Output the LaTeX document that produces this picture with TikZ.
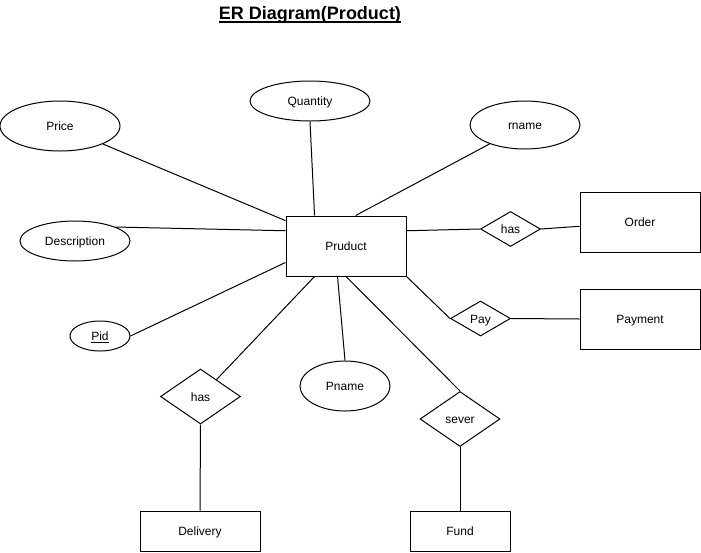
\documentclass[tikz,border=0pt]{standalone}
\usepackage{fontspec}
\setmainfont{Liberation Sans}
\usetikzlibrary{shapes.geometric,calc}
\newsavebox\ulbox
\newcommand\ultext[3]{\sbox\ulbox{#1}\rlap{\rule[#2]{\wd\ulbox}{#3}}\usebox\ulbox}
\begin{document}
\begin{tikzpicture}[x=1pt,y=-1pt,
  every node/.style={font=\fontsize{12}{14}\selectfont},
  lbl/.style={text height=9.5pt, text depth=0.5pt},
  attr/.style={draw, ellipse, inner sep=0pt, line width=1pt, lbl},
  entity/.style={draw, rectangle, inner sep=0pt, line width=1pt, lbl},
  rel/.style={draw, diamond, inner sep=0pt, line width=1pt, lbl},
  link/.style={draw, line width=1pt}]
\useasboundingbox (0,0) rectangle (701,552);

\node[font=\bfseries\fontsize{18}{20}\selectfont, anchor=base, inner sep=0pt] (title) at (310,19.5) {\ultext{ER Diagram(Product)}{-3pt}{1.6pt}};

\node[attr, minimum width=120pt, minimum height=50pt] (price) at (60,126) {Price};
\node[attr, minimum width=120pt, minimum height=40pt] (qty) at (310,101) {Quantity};
\node[attr, minimum width=110pt, minimum height=48pt] (rname) at (525,125) {rname};
\node[attr, minimum width=110pt, minimum height=40pt] (desc) at (75,241) {Description};
\node[attr, minimum width=60pt, minimum height=30pt] (pid) at (100,336) {\ultext{Pid}{-2pt}{0.8pt}};
\node[attr, minimum width=90pt, minimum height=50pt] (pname) at (345,386) {Pname};

\node[entity, minimum width=120pt, minimum height=60pt] (prod) at (346,246) {Pruduct};
\node[entity, minimum width=120pt, minimum height=60pt] (order) at (640,222) {Order};
\node[entity, minimum width=120pt, minimum height=60pt] (payment) at (640,319) {Payment};
\node[entity, minimum width=120pt, minimum height=40pt] (delivery) at (200,531) {Delivery};
\node[entity, minimum width=100pt, minimum height=40pt] (fund) at (460,531) {Fund};

\node[rel, minimum width=60pt, minimum height=35pt] (has1) at (510.5,229) {has};
\node[rel, minimum width=60pt, minimum height=35pt] (pay) at (480.5,318.5) {Pay};
\node[rel, minimum width=80pt, minimum height=55pt] (has2) at (200.5,396.5) {has};
\node[rel, minimum width=80pt, minimum height=55pt] (sever) at (460,419) {sever};

\draw[link] (price) -- (prod);
\draw[link] (qty.south) -- ($(prod.north west)!.24!(prod.north east)$);
\draw[link] (rname) -- ($(prod.north west)!.58!(prod.north east)$);
\draw[link] (desc.19) -- ($(prod.north west)!.25!(prod.south west)$);
\draw[link] (pid.east) -- ($(prod.north west)!.77!(prod.south west)$);
\draw[link] ($(prod.north east)!.25!(prod.south east)$) -- (has1.west);
\draw[link] (has1.east) -- ($(order.north west)!.57!(order.south west)$);
\draw[link] (prod.south east) -- (pay.west);
\draw[link] (pay.east) -- (payment.west);
\draw[link] ($(prod.south west)!.43!(prod.south east)$) -- (pname.north);
\draw[link] ($(prod.south west)!.24!(prod.south east)$) -- (has2);
\draw[link] (prod.south) -- (sever.north);
\draw[link] (has2.south) -- (delivery.north);
\draw[link] (sever.south) -- (fund.north);
\end{tikzpicture}
\end{document}
